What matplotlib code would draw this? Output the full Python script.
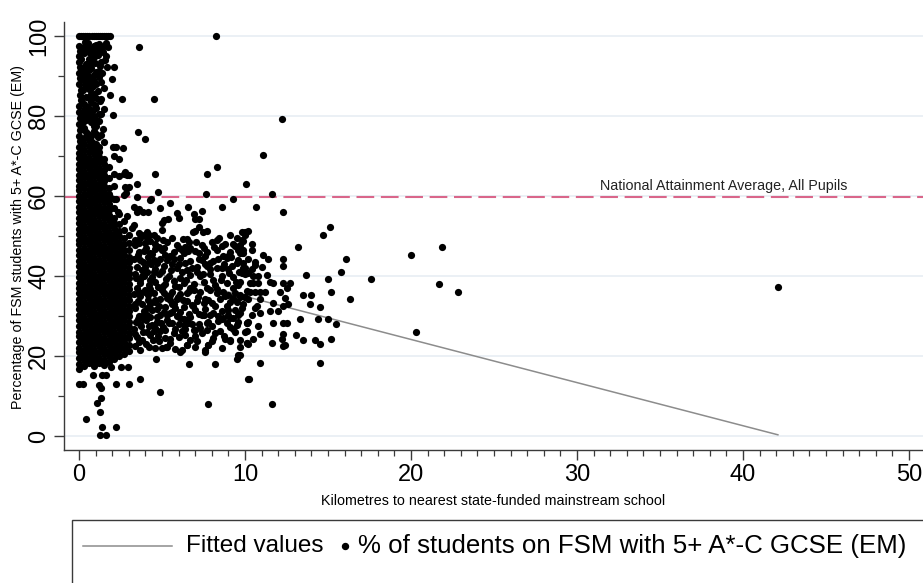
import matplotlib
matplotlib.use("Agg")
import matplotlib.pyplot as plt
from matplotlib.patches import Rectangle
from matplotlib.lines import Line2D
from matplotlib.ticker import MultipleLocator

plt.rcParams['font.family'] = ['Liberation Sans', 'DejaVu Sans']

# ---------------- data ----------------
# schools reporting 100%
row100 = [(0.0, 100), (0.12, 100), (0.25, 100), (0.38, 100), (0.5, 100), (0.63, 100),
          (0.76, 100), (0.88, 100), (1.0, 100), (1.13, 100), (1.26, 100), (1.38, 100),
          (1.5, 100), (1.62, 100), (1.74, 100), (1.85, 100), (8.25, 100)]

# dense core near the origin: column distance -> list of percentages
core_km = [0.02, 0.3, 0.6, 0.9, 1.2, 1.5, 1.8, 2.1, 2.4, 2.7, 3.0]
core_pct = [
    [16.7, 18.0, 19.6, 20.9, 22.0, 23.6, 25.0, 26.1, 27.5, 29.0, 30.2, 31.7, 33.1, 34.2, 35.8, 36.9,
     38.3, 39.8, 41.0, 42.5, 43.7, 45.2, 46.4, 47.9, 49.1, 50.6, 51.8, 53.3, 54.5, 55.9, 57.2, 58.7,
     59.9, 61.4, 62.6, 64.1, 65.3, 66.8, 68.0, 69.5, 70.7],
    [17.6, 19.0, 20.3, 21.5, 23.0, 24.3, 25.6, 26.9, 28.3, 29.6, 31.0, 32.3, 33.6, 35.0, 36.4, 37.6,
     39.1, 40.4, 41.7, 43.1, 44.4, 45.8, 47.1, 48.5, 49.8, 51.2, 52.5, 53.9, 55.2, 56.6, 57.9, 59.3,
     60.6, 62.0, 63.3, 64.7, 66.0, 67.4, 68.7, 70.1, 71.4],
    [18.2, 19.4, 20.9, 22.3, 23.7, 25.0, 26.3, 27.7, 29.1, 30.4, 31.8, 33.0, 34.4, 35.8, 37.2, 38.5,
     39.8, 41.2, 42.6, 43.9, 45.3, 46.6, 48.0, 49.3, 50.7, 52.0, 53.4, 54.7, 56.1, 57.4, 58.8, 60.2,
     61.5, 62.9, 64.2, 65.6, 66.9, 68.3, 69.6, 71.0],
    [17.5, 18.9, 20.2, 21.6, 22.9, 24.4, 25.7, 27.0, 28.4, 29.8, 31.1, 32.5, 33.8, 35.2, 36.5, 37.9,
     39.2, 40.6, 41.9, 43.3, 44.6, 46.0, 47.3, 48.7, 50.0, 51.4, 52.8, 54.1, 55.5, 56.8, 58.2, 59.5,
     60.9, 62.3, 63.6, 65.0, 66.3, 67.7, 69.0, 70.4, 71.7],
    [18.3, 19.6, 21.0, 22.4, 23.8, 25.1, 26.5, 27.8, 29.2, 30.5, 31.9, 33.2, 34.6, 36.0, 37.3, 38.7,
     40.0, 41.4, 42.7, 44.1, 45.4, 46.8, 48.1, 49.5, 50.8, 52.2, 53.6, 54.9, 56.3, 57.6, 59.0, 60.3,
     61.7, 63.0, 64.4, 65.7, 67.1, 68.4, 69.8, 71.1],
    [17.8, 19.1, 20.5, 21.8, 23.2, 24.6, 25.9, 27.3, 28.6, 30.0, 31.3, 32.7, 34.0, 35.4, 36.7, 38.1,
     39.5, 40.8, 42.2, 43.5, 44.9, 46.2, 47.6, 48.9, 50.3, 51.7, 53.0, 54.4, 55.7, 57.1, 58.4, 59.8,
     61.1, 62.5, 63.8, 65.2, 66.5, 67.9, 69.3],
    [18.6, 20.0, 21.3, 22.7, 24.0, 25.4, 26.8, 28.1, 29.5, 30.8, 32.2, 33.5, 34.9, 36.2, 37.6, 39.0,
     40.3, 41.7, 43.0, 44.4, 45.7, 47.1, 48.4, 49.8, 51.1, 52.5, 53.9, 55.2, 56.6, 57.9, 59.3, 60.6,
     62.0, 64.6, 67.3],
    [19.3, 20.7, 22.0, 23.4, 24.8, 26.1, 27.5, 28.8, 30.2, 31.5, 32.9, 34.2, 35.6, 37.0, 38.3, 39.7,
     41.0, 42.4, 43.7, 45.1, 46.4, 47.8, 49.2, 50.5, 51.9, 53.2, 54.6, 57.1, 59.3, 62.6, 65.4],
    [20.1, 21.4, 22.8, 24.2, 25.5, 26.9, 28.2, 29.6, 30.9, 32.3, 33.6, 35.0, 36.3, 37.7, 39.0, 40.4,
     41.8, 43.1, 44.5, 45.8, 47.2, 48.5, 49.9, 51.2, 53.0, 55.5],
    [20.6, 22.1, 23.5, 24.8, 26.2, 27.6, 28.9, 30.3, 31.6, 33.0, 34.3, 35.7, 37.0, 38.4, 39.7, 41.1,
     42.5, 43.8, 45.2, 46.5, 47.9, 49.6, 51.4, 53.8],
    [21.3, 22.7, 24.5, 25.8, 27.2, 28.5, 29.9, 31.3, 32.6, 34.0, 35.3, 36.7, 38.0, 39.4, 40.8, 42.1,
     43.5, 44.8, 46.6, 48.3, 50.2],
]

# upper cloud near the origin (above ~72%)
upper_cloud = [
    (0.02, 72.3), (0.05, 73.7), (0.0, 75.1), (0.03, 76.5), (0.01, 78.1), (0.04, 79.6), (0.0, 81.0),
    (0.02, 82.5), (0.05, 85.3), (0.0, 87.9), (0.03, 89.4), (0.01, 90.8), (0.04, 92.2), (0.0, 93.6),
    (0.02, 95.0), (0.05, 96.3), (0.01, 97.6),
    (0.28, 72.9), (0.33, 74.4), (0.3, 77.0), (0.26, 78.5), (0.35, 80.1), (0.29, 81.6), (0.32, 83.1),
    (0.27, 86.4), (0.34, 87.7), (0.3, 89.1), (0.31, 90.5), (0.28, 91.9), (0.33, 95.8), (0.3, 97.3),
    (0.36, 98.4),
    (0.58, 72.6), (0.62, 74.0), (0.57, 75.6), (0.63, 79.3), (0.6, 80.8), (0.55, 82.2), (0.64, 84.3),
    (0.59, 86.8), (0.61, 88.2), (0.56, 90.1), (0.62, 91.5), (0.6, 92.9), (0.58, 94.3), (0.65, 95.7),
    (0.6, 97.0), (0.57, 98.2),
    (0.9, 71.9), (0.87, 73.3), (0.93, 76.2), (0.88, 77.6), (0.91, 79.9), (0.86, 81.4), (0.94, 82.8),
    (0.9, 85.6), (0.87, 87.4), (0.92, 88.8), (0.89, 90.3), (0.95, 93.3), (0.9, 94.8), (0.86, 96.2),
    (0.92, 97.6),
    (1.2, 72.2), (1.16, 74.7), (1.23, 78.7), (1.18, 80.5), (1.25, 83.7), (1.13, 86.2), (1.22, 89.7),
    (1.19, 91.2), (1.26, 92.6), (1.15, 95.3), (1.21, 96.7), (1.18, 98.0),
    (1.5, 73.4), (1.46, 76.8), (1.53, 81.8), (1.48, 87.0), (1.4, 90.7), (1.55, 94.0), (1.47, 95.9),
    (1.52, 97.4), (1.77, 97.2), (1.7, 92.3), (2.1, 92.3), (2.0, 89.25), (1.87, 85.25), (2.57, 84.2),
    (2.07, 80.25), (2.07, 72.3), (2.67, 72.1), (2.25, 72.3), (1.35, 84.3), (0.45, 93.0), (0.75, 87.0),
    (1.05, 79.0), (3.63, 97.2), (4.5, 84.2), (3.57, 76.1), (3.98, 74.2),
    (0.15, 74.3), (0.45, 76.0), (0.15, 77.3), (0.45, 79.0), (0.15, 80.4), (0.45, 81.8),
    (0.15, 83.9), (0.45, 84.7), (0.15, 86.6), (0.45, 88.6), (0.15, 91.5), (0.45, 91.2),
    (0.15, 94.3), (0.45, 96.6), (0.15, 97.0), (0.75, 73.7), (0.75, 75.0), (0.75, 78.4),
    (0.75, 80.2), (0.75, 83.5), (0.75, 85.4), (0.75, 89.6), (0.75, 91.9), (0.75, 94.0),
    (0.75, 96.8), (1.05, 72.9), (1.05, 75.5), (1.05, 77.4), (1.05, 82.0), (1.05, 84.5),
    (1.05, 88.1), (1.05, 91.0), (1.05, 95.2), (1.05, 97.8), (1.35, 75.2), (1.35, 80.4),
    (1.35, 88.6), (1.35, 93.4), (1.35, 96.3), (1.65, 95.0), (1.6, 98.2),
]

# low outliers near the origin
low_points = [
    (0.02, 13.1), (0.22, 13.1), (0.87, 15.2), (1.4, 15.2), (1.6, 15.2), (1.2, 12.7), (1.33, 11.9),
    (1.1, 8.2), (1.33, 9.4), (1.27, 6.1), (0.42, 4.2), (1.37, 2.2), (2.23, 2.2), (1.27, 0.3),
    (1.6, 0.3), (2.2, 12.9), (3.0, 12.9), (3.65, 14.2), (2.5, 17.3), (2.95, 17.3), (1.95, 17.3),
    (4.9, 11.1), (4.65, 19.2), (6.6, 18.1), (7.75, 8.1), (8.2, 18.0), (9.5, 19.2), (9.6, 20.3),
    (10.2, 14.2), (10.9, 18.2), (11.6, 8.0), (9.7, 20.25),
]

# spread of schools between ~2 and ~13 km
mid_points = [
    (2.8, 62.3), (2.7, 60.2), (2.77, 66.0), (2.9, 65.25), (3.03, 65.25), (2.4, 69.2), (2.1, 70.0),
    (2.4, 65.0), (2.7, 65.6), (2.2, 59.25), (1.87, 59.8), (2.83, 60.7), (2.87, 62.1), (3.0, 62.3),
    (3.47, 62.9), (3.47, 59.8), (3.31, 57.3), (3.63, 56.7), (3.47, 55.9), (3.88, 55.9), (4.16, 55.9),
    (2.37, 56.1), (2.87, 55.0), (1.87, 57.1), (3.3, 52.8), (3.17, 51.9), (3.6, 50.8), (3.8, 50.25),
    (4.2, 50.25), (4.1, 51.1), (4.5, 50.2), (4.98, 51.5), (4.98, 53.3), (5.1, 54.0), (4.9, 57.1),
    (5.48, 58.2), (5.38, 54.2), (4.36, 59.25), (4.28, 59.0), (4.76, 61.1), (4.55, 65.4), (5.9, 55.8),
    (6.0, 54.4), (6.58, 57.2), (6.9, 55.4), (7.0, 54.2), (7.39, 56.3), (7.25, 52.3), (7.2, 54.2),
    (6.85, 51.1), (7.0, 51.2), (7.48, 51.1), (7.7, 51.2), (6.25, 49.2), (6.5, 49.2), (7.65, 60.4),
    (7.7, 65.4), (8.3, 67.3), (8.6, 57.2), (9.3, 59.2), (8.45, 49.4), (8.3, 49.0), (9.1, 50.25),
    (9.5, 49.4), (9.8, 51.1), (9.9, 48.7), (10.0, 51.1), (10.06, 63.0), (10.66, 57.2),
    (11.07, 70.25), (11.6, 60.4), (12.3, 56.1), (10.2, 51.25), (12.2, 79.2),
    # 3 - 4 km edge of the core
    (3.35, 22.5), (3.5, 24.8), (3.3, 26.7), (3.45, 28.4), (3.62, 30.1), (3.38, 31.9), (3.55, 33.7),
    (3.3, 35.4), (3.48, 37.1), (3.65, 38.9), (3.36, 40.6), (3.52, 42.3), (3.32, 44.2), (3.6, 46.0),
    (3.4, 47.8), (3.7, 49.5), (3.85, 25.9), (3.9, 29.3), (3.78, 33.0), (3.95, 36.4), (3.82, 39.9),
    (3.88, 43.5), (3.75, 27.6), (3.92, 31.2), (3.7, 35.0), (3.8, 41.6), (3.68, 21.6),
    (3.4, 49.0), (3.55, 45.2), (3.45, 39.6), (3.6, 36.1), (3.4, 33.0), (3.55, 29.2), (3.4, 25.5),
    (3.6, 23.4),
    # 40 - 50 %
    (4.0, 48.3), (4.6, 47.9), (5.3, 48.6), (5.9, 47.7), (6.6, 48.4), (7.4, 47.8), (8.0, 48.5),
    (8.8, 48.0), (9.4, 47.6), (3.9, 46.2), (4.4, 45.6), (5.0, 46.4), (5.7, 46.0), (6.3, 45.7),
    (7.0, 46.3), (7.7, 45.9), (8.3, 46.5), (9.1, 46.1), (9.8, 45.8), (10.4, 46.4), (3.7, 44.0),
    (4.2, 43.6), (4.9, 44.3), (5.3, 43.9), (6.1, 44.5), (6.7, 43.7), (7.4, 44.1), (8.1, 43.8),
    (8.9, 44.4), (9.6, 44.0), (10.6, 43.6), (4.0, 42.2), (4.6, 41.8), (5.1, 42.5), (5.9, 42.0),
    (6.5, 41.6), (7.1, 42.3), (7.7, 42.6), (8.3, 41.9), (9.2, 42.4), (10.4, 41.8), (11.0, 42.2),
    (5.1, 47.0), (4.8, 47.3), (6.2, 46.5), (6.4, 47.3), (6.7, 47.0), (7.2, 45.8), (7.6, 45.0),
    (7.9, 43.3), (8.4, 44.2), (8.7, 45.0), (4.5, 44.0), (4.3, 45.7), (5.5, 45.0), (5.6, 42.9),
    (6.0, 42.9), (6.4, 43.3), (7.2, 44.2), (6.8, 42.1), (7.9, 41.7), (8.6, 42.1), (9.0, 41.7),
    (9.5, 43.3), (9.9, 42.1), (10.2, 44.2), (9.9, 45.8), (9.0, 45.0), (9.7, 47.7), (9.3, 48.0),
    (4.1, 49.4), (4.7, 49.4), (3.6, 48.3),
    (4.05, 47.1), (4.3, 48.7), (4.15, 44.8), (4.35, 42.9), (4.1, 41.0), (4.55, 46.8), (4.7, 43.2),
    (4.5, 40.9), (5.05, 49.0), (5.2, 45.3), (5.0, 41.3), (5.6, 49.6), (5.75, 44.2), (5.55, 41.5),
    (6.05, 47.0), (6.2, 41.1), (6.55, 46.2), (7.05, 48.6), (7.1, 40.9), (7.55, 46.9), (7.6, 43.0),
    (7.45, 40.5), (8.15, 47.2), (8.6, 47.5), (8.75, 43.1), (9.15, 44.7), (9.05, 40.7),
    (9.55, 46.5), (9.65, 41.0),
    # 34 - 40 %
    (3.9, 40.1), (4.4, 39.7), (4.8, 40.4), (5.4, 40.0), (6.1, 39.6), (6.7, 40.3), (7.3, 39.9),
    (7.9, 40.5), (8.6, 40.0), (9.3, 39.8), (10.0, 40.4), (10.8, 40.0), (3.7, 38.2), (4.2, 37.8),
    (4.6, 38.5), (5.2, 38.0), (5.8, 37.6), (6.3, 38.3), (6.9, 37.9), (7.5, 38.4), (8.2, 37.7),
    (8.9, 38.2), (9.6, 37.8), (10.5, 38.3), (4.0, 36.1), (4.5, 35.7), (5.0, 36.4), (5.6, 36.0),
    (6.1, 35.6), (6.6, 36.3), (7.3, 35.9), (7.9, 36.5), (8.7, 36.0), (9.4, 35.7), (10.1, 36.2),
    (4.18, 35.25), (4.58, 34.0), (5.48, 34.0), (5.98, 34.8), (6.49, 35.7), (6.79, 32.75),
    (7.19, 34.8), (7.79, 34.0), (8.29, 35.7), (8.98, 35.25), (9.5, 33.6), (10.0, 34.8),
    (4.9, 34.2), (5.1, 35.8), (5.9, 34.2), (7.6, 34.2), (8.5, 34.2), (9.3, 34.6), (10.2, 34.2),
    (4.25, 38.9), (4.3, 36.8), (4.15, 34.1), (4.75, 37.2), (5.25, 39.2), (5.05, 37.4), (5.3, 34.6),
    (5.7, 38.8), (5.5, 35.2), (6.0, 37.3), (6.25, 34.0), (6.45, 39.1), (6.7, 37.0), (6.5, 33.8),
    (6.95, 36.6), (7.1, 33.7), (7.7, 37.0), (8.05, 39.0), (8.3, 36.7), (8.55, 38.9), (8.8, 34.9),
    (9.25, 37.0), (9.45, 38.6), (9.7, 35.2),
    # 20 - 34 %
    (4.1, 32.0), (4.7, 31.7), (5.2, 32.3), (5.8, 31.9), (6.3, 32.2), (7.6, 31.8), (8.2, 32.4),
    (9.0, 31.6), (9.8, 32.1), (10.6, 31.9), (3.8, 30.0), (4.3, 29.7), (4.9, 30.3), (5.9, 30.0),
    (6.7, 29.8), (7.2, 30.4), (8.4, 30.0), (9.3, 29.6), (10.4, 30.2), (3.7, 28.0), (4.4, 27.7),
    (5.4, 28.3), (6.0, 27.9), (7.2, 28.1), (8.0, 27.6), (8.9, 28.2), (4.1, 26.0), (5.7, 25.7),
    (6.2, 26.2), (7.4, 25.8), (8.5, 26.3), (9.4, 25.9), (10.0, 26.1), (3.8, 24.0), (4.8, 23.8),
    (5.5, 24.3), (6.7, 24.1), (8.0, 23.7), (8.8, 24.2), (9.7, 23.9), (5.0, 22.0), (5.8, 21.8),
    (7.0, 22.2), (8.6, 22.1),
    (4.24, 22.2), (5.24, 22.2), (6.08, 21.1), (6.5, 22.7), (7.6, 21.1), (7.8, 22.7), (7.13, 23.8),
    (9.1, 23.8), (10.2, 23.0), (8.2, 25.7), (4.9, 26.2), (5.2, 26.5), (4.95, 28.2), (6.4, 26.8),
    (6.9, 26.6), (6.58, 28.2), (6.3, 29.2), (7.7, 28.2), (7.5, 30.2), (7.9, 30.2), (8.6, 29.2),
    (9.1, 29.5), (9.4, 31.5), (9.6, 28.6), (10.2, 28.6), (6.85, 32.5), (5.6, 32.9), (5.3, 30.2),
    (5.6, 28.2), (4.2, 27.4), (4.5, 26.2), (8.9, 32.5), (9.9, 33.0), (4.4, 31.5), (4.7, 29.8),
    (4.08, 30.25), (4.68, 28.6), (5.08, 27.3), (5.48, 30.7), (6.08, 29.4), (6.49, 28.2),
    (6.99, 26.5), (7.39, 30.25), (7.79, 28.6), (8.09, 30.7), (8.7, 29.4), (9.1, 27.3), (9.6, 30.25),
    (10.1, 28.2), (4.48, 24.0), (5.28, 22.3), (6.18, 21.5), (6.49, 22.75), (7.59, 21.5),
    (7.79, 22.75), (9.1, 24.0), (9.7, 22.3), (10.1, 23.2),
    (4.3, 33.0), (4.05, 28.9), (4.25, 25.3), (4.05, 23.1), (4.55, 33.4), (4.8, 32.6), (4.6, 27.0),
    (4.75, 25.1), (4.6, 21.9), (5.1, 31.0), (5.3, 29.0), (5.15, 24.6), (5.75, 33.0), (5.6, 30.9),
    (5.8, 26.8), (5.5, 23.2), (6.1, 31.1), (6.3, 27.8), (6.05, 24.8), (6.6, 30.6), (6.8, 27.9),
    (6.4, 25.3), (7.0, 31.4), (7.3, 27.0), (7.0, 24.9), (7.5, 33.2), (7.7, 26.4), (8.0, 33.3),
    (8.35, 28.7), (8.1, 24.5), (8.6, 31.2), (8.75, 25.0), (9.1, 33.4), (9.0, 30.2), (9.3, 26.8),
    (9.5, 27.7),
    # 10 - 13 km
    (9.9, 46.5), (9.7, 45.7), (11.1, 45.25), (11.4, 44.2), (12.3, 44.2), (12.3, 42.4), (9.9, 43.2),
    (10.0, 42.0), (10.6, 42.8), (9.8, 40.75), (10.2, 40.75), (10.5, 40.0), (11.3, 40.25),
    (11.5, 38.6), (11.7, 38.2), (9.7, 38.6), (10.3, 38.2), (10.8, 38.2), (12.3, 38.2), (12.7, 38.2),
    (12.5, 37.0), (10.3, 36.1), (10.6, 36.1), (10.9, 36.1), (11.2, 36.1), (9.7, 34.8), (10.0, 34.8),
    (10.9, 34.2), (11.7, 33.3), (12.1, 36.1), (12.4, 34.6), (12.6, 32.9), (12.3, 32.5),
    (10.7, 32.5), (10.9, 30.8), (11.5, 31.2), (12.0, 31.2), (9.7, 30.8), (10.1, 28.3), (10.8, 27.5),
    (11.7, 28.2), (12.3, 28.2), (12.5, 28.2), (10.1, 26.2), (10.9, 25.6), (12.3, 25.6),
    (12.2, 24.2), (10.1, 23.3), (10.5, 24.3), (11.6, 23.3), (12.3, 22.5),
    (10.0, 50.25), (10.4, 48.0), (9.8, 49.0),
]

# far from other schools
far_points = [
    (15.1, 52.2), (14.7, 50.25), (13.2, 47.2), (16.1, 44.2), (15.8, 41.1), (17.6, 39.2),
    (13.7, 40.25), (15.0, 39.25), (15.2, 36.1), (16.3, 34.2), (13.5, 35.25), (14.0, 35.25),
    (13.9, 33.0), (14.5, 32.3), (13.3, 29.2), (14.4, 29.2), (15.0, 29.2), (15.5, 28.0),
    (13.1, 25.25), (13.5, 24.0), (14.2, 24.0), (14.5, 23.0), (15.2, 24.2), (14.5, 18.2),
    (12.4, 22.7), (10.26, 14.2), (20.0, 45.25), (21.85, 47.2), (21.7, 38.0), (22.8, 36.1),
    (20.3, 26.1), (42.1, 37.2),
]

# linear fit
fit_km = [0.0, 42.1]
fit_pct = [45.7, 0.3]

national_avg = 59.8

# ---------------- assemble ----------------
xs, ys = [], []
for x, y in row100 + upper_cloud + low_points + mid_points + far_points:
    xs.append(x)
    ys.append(y)
for x, col in zip(core_km, core_pct):
    for y in col:
        xs.append(x)
        ys.append(y)

# ---------------- figure ----------------
W, H = 923, 583
fig = plt.figure(figsize=(W / 100, H / 100), dpi=100)
ax = fig.add_axes([64 / W, (H - 450) / H, (W - 64) / W, (450 - 22) / H])

ax.set_xlim(-0.904, 50.84)
ax.set_ylim(-3.5, 103.5)

ax.set_xticks(range(0, 51, 10))
ax.xaxis.set_minor_locator(MultipleLocator(1))
ax.set_yticks(range(0, 101, 20))
ax.yaxis.set_minor_locator(MultipleLocator(10))

ax.yaxis.grid(True, which='major', color='#e9eff4', lw=1.3)
ax.set_axisbelow(True)

for s in ('top', 'right'):
    ax.spines[s].set_visible(False)
for s in ('left', 'bottom'):
    ax.spines[s].set_color('#3a3a3a')
    ax.spines[s].set_linewidth(1.0)

ax.tick_params(axis='both', which='major', length=7, width=1.0, color='#3a3a3a', labelsize=17)
ax.tick_params(axis='both', which='minor', length=4, width=0.9, color='#3a3a3a')
ax.tick_params(axis='x', which='major', pad=3)
ax.tick_params(axis='y', which='major', pad=11)
for lab in ax.get_yticklabels():
    lab.set_rotation(90)
    lab.set_va('center')
    lab.set_ha('center')

ax.axhline(national_avg, color='#d9668a', lw=1.5, dashes=(8.5, 3.2), zorder=1.5)
ax.text(46.3, national_avg + 2.7, 'National Attainment Average, All Pupils',
        ha='right', va='center', fontsize=10.3, color='#222222')

fit_line, = ax.plot(fit_km, fit_pct, color='#8c8c8c', lw=1.1, zorder=1.8)
ax.scatter(xs, ys, s=27, c='black', linewidths=0, zorder=2)

ax.set_xlabel('Kilometres to nearest state-funded mainstream school', fontsize=10.3,
              va='center')
ax.xaxis.set_label_coords(0.5, (450 - 501) / 428)
ax.set_ylabel('Percentage of FSM students with 5+ A*-C GCSE (EM)', fontsize=10.3,
              va='center', ha='center')
ax.yaxis.set_label_coords((18 - 64) / 859, 0.497)

# ---------------- legend box (Stata style, cropped) ----------------
fig.patches.append(Rectangle((72 / W, -0.2), 1.0, (H - 520) / H + 0.2,
                             transform=fig.transFigure, fill=False,
                             edgecolor='#3a3a3a', lw=1.0))
ly = (H - 546) / H
fig.lines.append(Line2D([83 / W, 172 / W], [ly, ly], transform=fig.transFigure,
                        color='#8c8c8c', lw=1.1))
fig.text(186 / W, ly, 'Fitted values', fontsize=17.5, va='center', ha='left')
fig.lines.append(Line2D([345 / W], [ly], transform=fig.transFigure, marker='o',
                        markersize=4.3, color='black', lw=0))
fig.text(358 / W, ly, '% of students on FSM with 5+ A*-C GCSE (EM)', fontsize=18.6,
         va='center', ha='left')

fig.savefig('out.png', dpi=100)
